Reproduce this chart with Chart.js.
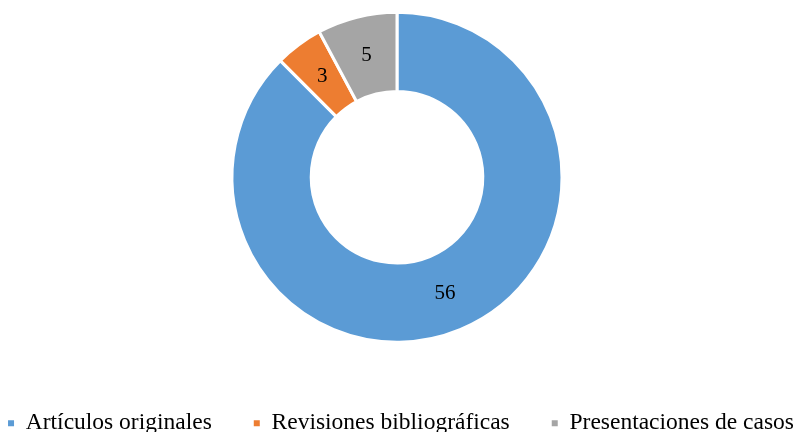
<!DOCTYPE html>
<html>
<head>
<meta charset="utf-8">
<script src="https://cdn.jsdelivr.net/npm/chart.js@4"></script>
<style>
  html, body { margin: 0; padding: 0; background: #ffffff; }
  #wrap { width: 794px; height: 432px; }
</style>
</head>
<body>
<div id="wrap"><canvas id="chart"></canvas></div>
<script>
const categories = ["Artículos originales", "Revisiones bibliográficas", "Presentaciones de casos"];
const counts = [56, 3, 5];
const colors = ["#5B9BD5", "#ED7D31", "#A5A5A5"];

const serif = "'Liberation Serif', 'Times New Roman', serif";

// draw the count in the middle of each slice
const sliceLabels = {
  id: "sliceLabels",
  afterDatasetsDraw(chart) {
    const ctx = chart.ctx;
    const meta = chart.getDatasetMeta(0);
    ctx.save();
    ctx.font = "21px " + serif;
    ctx.fillStyle = "#000000";
    ctx.textAlign = "center";
    ctx.textBaseline = "middle";
    meta.data.forEach((arc, i) => {
      const pos = arc.tooltipPosition();
      ctx.fillText(String(counts[i]), pos.x, pos.y);
    });
    ctx.restore();
  },
};

// nudge the legend row right and down, the original sits low and off centre
const legendNudge = {
  id: "legendNudge",
  afterLayout(chart) {
    chart.legend.left += 4;
    chart.legend.right += 4;
    chart.legend.top += 15;
    chart.legend.bottom += 15;
  },
};

new Chart(document.getElementById("chart"), {
  type: "doughnut",
  data: {
    labels: categories,
    datasets: [
      {
        data: counts,
        backgroundColor: colors,
        borderColor: "#ffffff",
        borderWidth: 3,
        radius: 165,
      },
    ],
  },
  options: {
    responsive: true,
    maintainAspectRatio: false,
    animation: false,
    cutout: "52%",
    // negative side padding so the legend fits on one row
    layout: { padding: { top: 0, bottom: 2, left: -50, right: -50 } },
    plugins: {
      tooltip: { enabled: false },
      legend: {
        position: "bottom",
        labels: {
          boxWidth: 6,
          boxHeight: 6,
          padding: 42,
          color: "#000000",
          font: { family: serif, size: 23.5 },
          generateLabels(chart) {
            return Chart.overrides.doughnut.plugins.legend.labels
              .generateLabels(chart)
              .map((item) => ({ ...item, lineWidth: 0, strokeStyle: item.fillStyle }));
          },
        },
      },
    },
  },
  plugins: [sliceLabels, legendNudge],
});
</script>
</body>
</html>
